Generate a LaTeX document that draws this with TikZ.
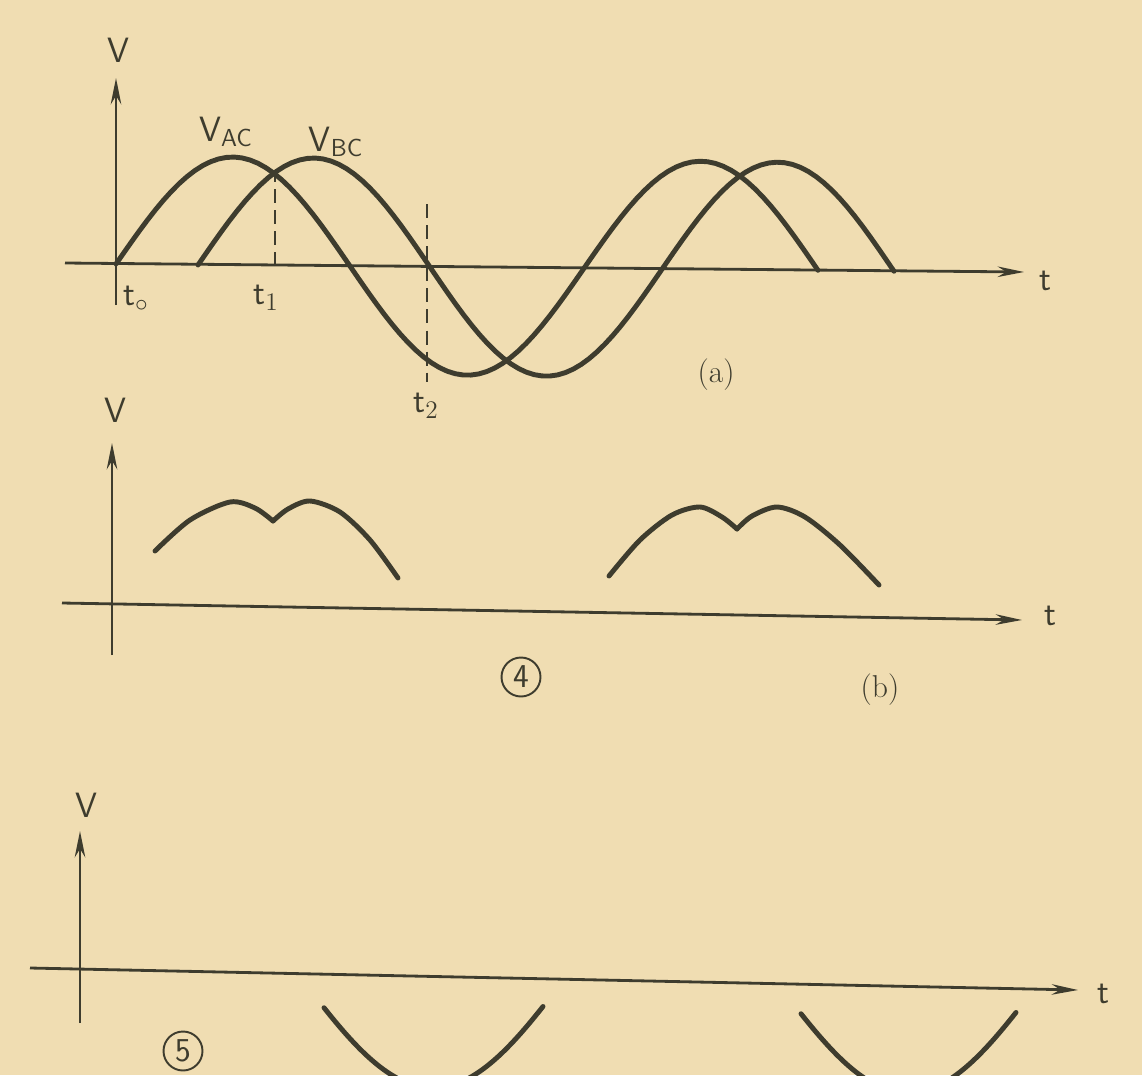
\documentclass[tikz,border=0pt]{standalone}
\usepackage{fontspec}
\usetikzlibrary{arrows.meta,positioning}
\definecolor{paper}{RGB}{240,221,178}
\definecolor{ink}{RGB}{62,60,46}

\begin{document}
\begin{tikzpicture}[
    x=0.02cm, y=-0.02cm,
    axis/.style={draw=ink, line width=1.6pt, -{Stealth[length=15pt, width=6pt]}},
    wave/.style={draw=ink, line width=2.8pt, line cap=round, line join=round},
    guide/.style={draw=ink, line width=1.7pt, dash pattern=on 8pt off 4pt},
    label/.style={text=ink, font=\sffamily\fontsize{20}{24}\selectfont, inner sep=1pt},
    caption/.style={text=ink, font=\fontsize{18}{22}\selectfont, inner sep=1pt},
    circnum/.style={draw=ink, text=ink, circle, line width=1.1pt, inner sep=1.5pt,
        minimum size=0.78cm, font=\sffamily\fontsize{19}{22}\selectfont},
]

% Paper
\fill[paper] (0,0) rectangle (1142,1075);
\useasboundingbox (0,0) rectangle (1142,1075);
\clip (0,0) rectangle (1142,1075);

% ---------- (a) ----------
\coordinate (aybot) at (116,305);
\coordinate (aytop) at (116,78);
\coordinate (axl) at (65,263);
\coordinate (axr) at (1024,272);
\draw[axis] (aybot) -- (aytop);
\draw[axis] (axl) -- (axr);
\node[label] (va) at (118,50) {V};
\node[label] (ta) at (1045,281) {t};

% V_AC and V_BC
\draw[wave] plot[domain=116:818, samples=90] (\x, {264+0.009*(\x-116)-108*sin((\x-116)/234*180)});
\draw[wave] plot[domain=198:894, samples=90] (\x, {265+0.009*(\x-198)-108*sin((\x-198)/232*180)});
\node[label] (vac) at (226,132) {V\textsubscript{AC}};
\node[label] (vbc) at (336,142) {V\textsubscript{BC}};

% Marked instants
\coordinate (x1) at (275,176);
\coordinate (x1b) at (275,266);
\coordinate (x2) at (427,204);
\coordinate (x2b) at (427,382);
\draw[guide] (x1b) -- (x1);
\draw[guide] (x2) -- (x2b);
\node[label, anchor=west] (t0) at (121,299) {t$_{\circ}$};
\node[label] (t1) at (266,298) {t$_1$};
\node[label] (t2) at (426,406) {t$_2$};
\node[caption] (capa) at (716,375) {(a)};

% ---------- (b) ----------
\coordinate (bybot) at (112,655);
\coordinate (bytop) at (112,443);
\coordinate (bxl) at (62,603);
\coordinate (bxr) at (1022,620);
\draw[axis] (bybot) -- (bytop);
\draw[axis] (bxl) -- (bxr);
\node[label] (vb) at (115,410) {V};
\node[label] (tb) at (1050,616) {t};

% Rectified humps
\draw[wave] plot[smooth] coordinates {(155,551) (190,520) (230,502) (255,508) (273,521)};
\draw[wave] plot[smooth] coordinates {(273,521) (288,509) (310,501) (340,512) (370,540) (398,578)};
\draw[wave] plot[smooth] coordinates {(609,576) (640,540) (672,515) (700,507) (722,517) (737,529)};
\draw[wave] plot[smooth] coordinates {(737,529) (752,516) (777,507) (805,517) (840,545) (879,585)};
\node[circnum] (n4) at (521,677) {4};
\node[caption] (capb) at (880,690) {(b)};

% ---------- (c) ----------
\coordinate (cybot) at (80,1023);
\coordinate (cytop) at (80,831);
\coordinate (cxl) at (30,968);
\coordinate (cxr) at (1078,990);
\draw[axis] (cybot) -- (cytop);
\draw[axis] (cxl) -- (cxr);
\node[label] (vc) at (86,805) {V};
\node[label] (tc) at (1103,994) {t};

% Negative half waves
\draw[wave] plot[domain=324:543, samples=60] (\x, {978+110*sin((\x-301)/264*180)});
\draw[wave] plot[domain=801:1016, samples=60] (\x, {988+105*sin((\x-781)/254*180)});
\node[circnum] (n5) at (183,1051) {5};

\end{tikzpicture}
\end{document}
